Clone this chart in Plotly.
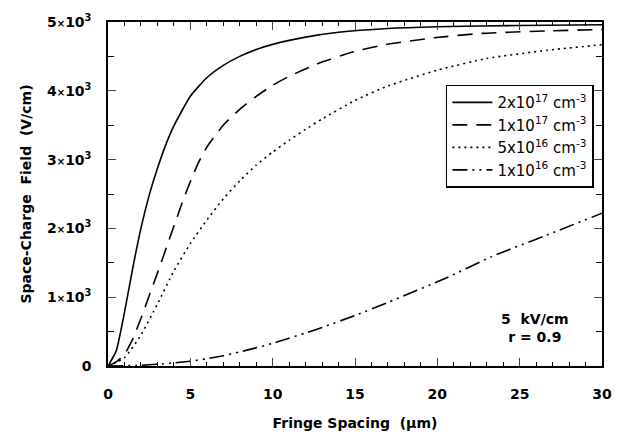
import plotly.graph_objects as go

# Data
x_2e17 = [0, 0.5, 1, 1.5, 2, 2.5, 3, 3.5, 4, 5, 6, 7, 8, 9, 10, 12, 14, 17, 20, 25, 30]
y_2e17 = [0, 220, 780, 1420, 2000, 2480, 2870, 3210, 3490, 3920, 4190, 4370, 4500, 4600, 4675, 4780, 4850, 4905, 4930, 4950, 4960]

x_1e17 = [0, 0.5, 1, 1.5, 2, 2.5, 3, 3.5, 4, 4.5, 5, 5.5, 6, 7, 8, 9, 10, 11, 12.8, 14.8, 16.8, 19.8, 22.7, 26.7, 30]
y_1e17 = [0, 60, 170, 390, 690, 1020, 1350, 1690, 2030, 2370, 2680, 2960, 3180, 3500, 3730, 3920, 4080, 4210, 4400, 4560, 4670, 4770, 4835, 4870, 4890]

x_5e16 = [0, 1, 2, 3, 4, 5, 6, 7, 8, 9, 10, 11, 12, 13, 15, 17, 20, 23, 26.7, 30]
y_5e16 = [0, 120, 450, 900, 1380, 1780, 2120, 2430, 2690, 2920, 3110, 3280, 3440, 3590, 3860, 4070, 4300, 4470, 4590, 4670]

x_1e16 = [0, 2, 3, 4, 5, 6, 7, 8, 9, 10, 11, 12, 13, 15, 17, 20.5, 23.3, 26.5, 30]
y_1e16 = [0, 10, 25, 45, 70, 105, 150, 205, 265, 330, 405, 480, 560, 735, 925, 1275, 1590, 1890, 2220]

series_names = ["2x10<sup>17</sup> cm<sup>-3</sup>", "1x10<sup>17</sup> cm<sup>-3</sup>",
                "5x10<sup>16</sup> cm<sup>-3</sup>", "1x10<sup>16</sup> cm<sup>-3</sup>"]

x_tickvals = [0, 5, 10, 15, 20, 25, 30]
y_tickvals = [0, 1000, 2000, 3000, 4000, 5000]
X = '<span style="font-size:10px">\u00d7</span>'
y_ticktext = ["0"] + [f"{k}{X}10<sup>3</sup>" for k in range(1, 6)]

FONT = "DejaVu Sans, Liberation Sans, Arial, sans-serif"

fig = go.Figure()
styles = ["solid", "15px,9px", "2px,4px", "15px,5px,2px,5px,2px,5px"]
for xs, ys, name, dash in zip([x_2e17, x_1e17, x_5e16, x_1e16],
                              [y_2e17, y_1e17, y_5e16, y_1e16], series_names, styles):
    fig.add_trace(go.Scatter(x=xs, y=ys, mode="lines", name=name,
                             line=dict(color="black", width=1.6, dash=dash, shape="spline", smoothing=0.5)))

fig.update_layout(
    width=624, height=441,
    margin=dict(l=108, r=12, t=17, b=73),
    paper_bgcolor="white", plot_bgcolor="white",
    font=dict(family=FONT, color="black"),
    legend=dict(x=0.684, y=0.818, xanchor="left", yanchor="top",
                bordercolor="black", borderwidth=1.5, bgcolor="white",
                font=dict(size=15, family=FONT),
                tracegroupgap=0, itemwidth=40),
    annotations=[dict(x=0.865, y=0.11, xref="paper", yref="paper", xanchor="center", yanchor="middle",
                      text="<b>5  kV/cm</b><br><b>r = 0.9</b>", showarrow=False,
                      font=dict(size=14, family=FONT), align="center")],
)
fig.update_xaxes(range=[0, 30], tickvals=x_tickvals, ticks="inside", ticklen=8, tickwidth=1.2,
                 showline=True, linecolor="black", linewidth=1.5, mirror="allticks",
                 showgrid=False, zeroline=False,
                 minor=dict(dtick=1, ticks="inside", ticklen=4, tickcolor="black", showgrid=False),
                 tickfont=dict(size=14, family=FONT, weight="bold"),
                 ticklabelstandoff=14,
                 title=dict(text="<b>Fringe Spacing  (\u03bcm)</b>", font=dict(size=14, family=FONT), standoff=18))
fig.update_yaxes(range=[0, 5000], tickvals=y_tickvals, ticktext=y_ticktext, ticks="inside", ticklen=8,
                 tickwidth=1.2, showline=True, linecolor="black", linewidth=1.5, mirror="allticks",
                 showgrid=False, zeroline=False,
                 minor=dict(dtick=500, tick0=0, ticks="inside", ticklen=6, tickcolor="black", showgrid=False),
                 tickfont=dict(size=14, family=FONT, weight="bold"),
                 ticklabelstandoff=12,
                 title=dict(text="<b>Space-Charge  Field  (V/cm)</b>", font=dict(size=14, family=FONT), standoff=12))

fig.write_html("out.html")
